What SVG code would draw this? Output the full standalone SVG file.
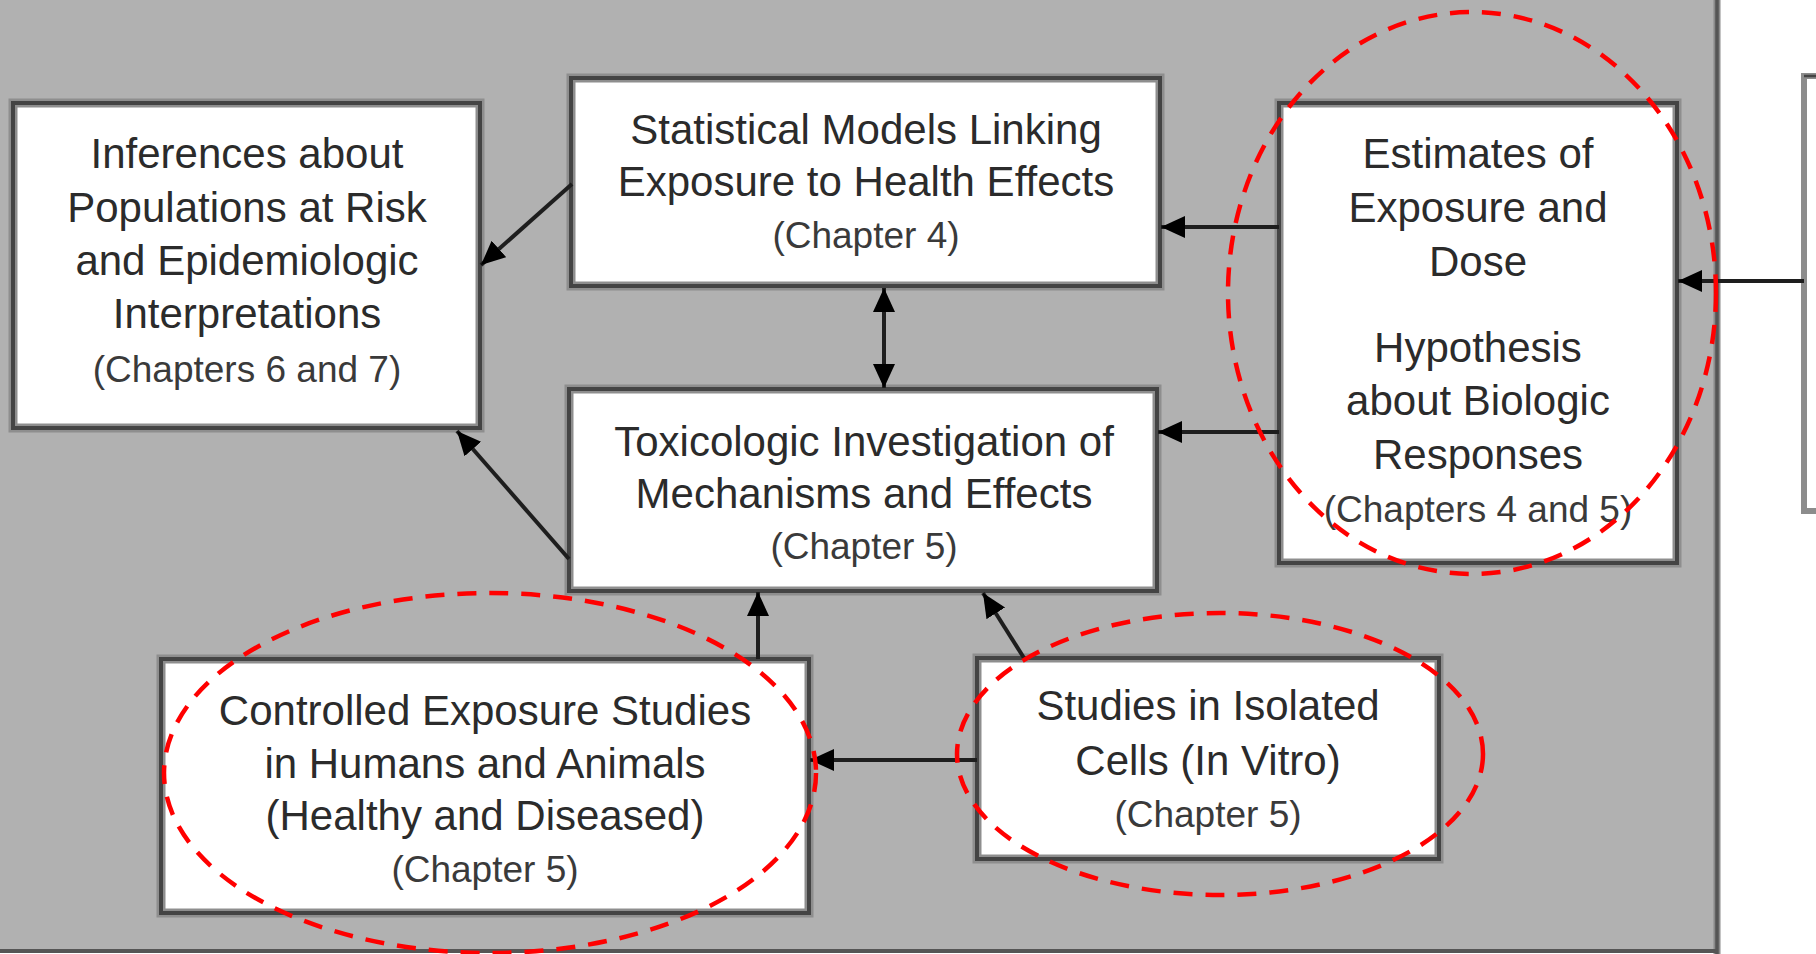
<svg xmlns="http://www.w3.org/2000/svg" width="1816" height="954" viewBox="0 0 1816 954">
  <style>
    .halo { fill: #ffffff; stroke: #8e8e8e; stroke-width: 9; }
    .edge { fill: none; stroke: #444444; stroke-width: 4; }
    .t { font-family: "Liberation Sans", Arial, sans-serif; font-size: 42px; fill: #2b2b2b; text-anchor: middle; }
    .c { font-family: "Liberation Sans", Arial, sans-serif; font-size: 37px; fill: #3a3a3a; text-anchor: middle; }
    .wire { stroke: #1e1e1e; stroke-width: 4; fill: none; }
    .ring { fill: none; stroke: #ff0000; stroke-width: 4.5; stroke-dasharray: 19 13; }
  </style>
  <defs>
    <marker id="head" markerUnits="userSpaceOnUse" markerWidth="26" markerHeight="24" refX="24" refY="11" orient="auto-start-reverse">
      <path d="M0,0 L24,11 L0,22 Z" fill="#000000"/>
    </marker>
  </defs>

  <!-- page background and grey panel -->
  <rect x="0" y="0" width="1816" height="954" fill="#ffffff"/>
  <rect x="0" y="0" width="1718" height="951" fill="#b1b1b1"/>
  <line x1="1717" y1="0" x2="1717" y2="954" stroke="#8a8a8a" stroke-width="7"/>
  <line x1="1717" y1="0" x2="1717" y2="954" stroke="#555555" stroke-width="3.5"/>
  <line x1="0" y1="951" x2="1718" y2="951" stroke="#555555" stroke-width="4"/>

  <!-- partial box on the right, outside the panel -->
  <g id="outside-box">
    <path d="M1816,76 L1804,76 L1804,511 L1816,511" fill="#ffffff" stroke="#8c8c8c" stroke-width="6"/>
    <line x1="1804" y1="76" x2="1816" y2="76" stroke="#444444" stroke-width="2.5"/>
  </g>

  <g id="inferences">
    <rect class="halo" x="13" y="103" width="467" height="325"/>
    <rect class="edge" x="13" y="103" width="467" height="325"/>
    <text class="t" x="247" y="168">Inferences about</text>
    <text class="t" x="247" y="222">Populations at Risk</text>
    <text class="t" x="247" y="275">and Epidemiologic</text>
    <text class="t" x="247" y="328">Interpretations</text>
    <text class="c" x="247" y="382">(Chapters 6 and 7)</text>
  </g>

  <g id="statistical">
    <rect class="halo" x="571" y="78" width="589" height="208"/>
    <rect class="edge" x="571" y="78" width="589" height="208"/>
    <text class="t" x="866" y="144">Statistical Models Linking</text>
    <text class="t" x="866" y="196">Exposure to Health Effects</text>
    <text class="c" x="866" y="248">(Chapter 4)</text>
  </g>

  <g id="toxicologic">
    <rect class="halo" x="569" y="389" width="588" height="202"/>
    <rect class="edge" x="569" y="389" width="588" height="202"/>
    <text class="t" x="864" y="456">Toxicologic Investigation of</text>
    <text class="t" x="864" y="508">Mechanisms and Effects</text>
    <text class="c" x="864" y="559">(Chapter 5)</text>
  </g>

  <g id="estimates">
    <rect class="halo" x="1279" y="103" width="398" height="460"/>
    <rect class="edge" x="1279" y="103" width="398" height="460"/>
    <text class="t" x="1478" y="168">Estimates of</text>
    <text class="t" x="1478" y="222">Exposure and</text>
    <text class="t" x="1478" y="276">Dose</text>
    <text class="t" x="1478" y="362">Hypothesis</text>
    <text class="t" x="1478" y="415">about Biologic</text>
    <text class="t" x="1478" y="469">Responses</text>
    <text class="c" x="1478" y="522">(Chapters 4 and 5)</text>
  </g>

  <g id="controlled">
    <rect class="halo" x="161" y="659" width="648" height="254"/>
    <rect class="edge" x="161" y="659" width="648" height="254"/>
    <text class="t" x="485" y="725">Controlled Exposure Studies</text>
    <text class="t" x="485" y="778">in Humans and Animals</text>
    <text class="t" x="485" y="830">(Healthy and Diseased)</text>
    <text class="c" x="485" y="882">(Chapter 5)</text>
  </g>

  <g id="in-vitro">
    <rect class="halo" x="977" y="658" width="462" height="201"/>
    <rect class="edge" x="977" y="658" width="462" height="201"/>
    <text class="t" x="1208" y="720">Studies in Isolated</text>
    <text class="t" x="1208" y="775">Cells (In Vitro)</text>
    <text class="c" x="1208" y="827">(Chapter 5)</text>
  </g>

  <g id="connectors">
    <line class="wire" x1="572" y1="184" x2="481" y2="265" marker-end="url(#head)"/>
    <line class="wire" x1="569" y1="559" x2="457" y2="431" marker-end="url(#head)"/>
    <line class="wire" x1="884" y1="288" x2="884" y2="388" stroke="#444444" stroke-width="3.5" marker-start="url(#head)" marker-end="url(#head)"/>
    <line class="wire" x1="1279" y1="227" x2="1161" y2="227" marker-end="url(#head)"/>
    <line class="wire" x1="1279" y1="432" x2="1158" y2="432" marker-end="url(#head)"/>
    <line class="wire" x1="758" y1="659" x2="758" y2="592" marker-end="url(#head)"/>
    <line class="wire" x1="1024" y1="658" x2="983" y2="593" marker-end="url(#head)"/>
    <line class="wire" x1="977" y1="760" x2="810" y2="760" marker-end="url(#head)"/>
    <line class="wire" x1="1804" y1="281" x2="1678" y2="281" marker-end="url(#head)"/>
  </g>

  <!-- dashed red highlight rings -->
  <g id="highlights">
    <ellipse class="ring" cx="1472" cy="293" rx="244" ry="281"/>
    <ellipse class="ring" cx="490" cy="773" rx="326" ry="180"/>
    <ellipse class="ring" cx="1220" cy="754" rx="263" ry="141"/>
  </g>
</svg>
